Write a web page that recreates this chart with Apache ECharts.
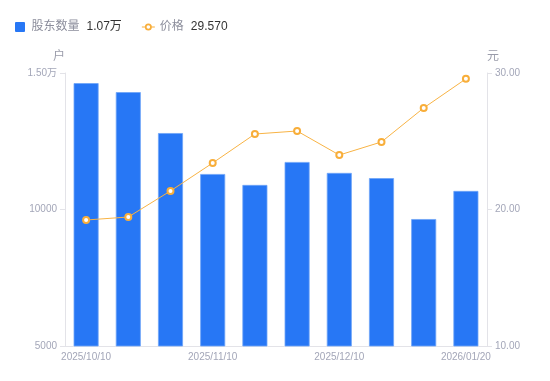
<!DOCTYPE html>
<html><head><meta charset="utf-8">
<script src="https://cdn.jsdelivr.net/npm/echarts@6/dist/echarts.min.js"></script>
<style>html,body{margin:0;padding:0;background:#fff}#c{width:550px;height:381px}</style>
</head><body><div id="c"></div>
<script>
const categories = ['2025/10/10','2025/10/20','2025/10/31','2025/11/10','2025/11/20','2025/11/28','2025/12/10','2025/12/20','2025/12/31','2026/01/20'];
const holders = [14630, 14300, 12800, 11300, 10900, 11740, 11340, 11150, 9650, 10680];
const prices = [19.23, 19.45, 21.36, 23.41, 25.53, 25.75, 23.99, 24.95, 27.44, 29.57];
const leftTicks = [5000, 10000, 15000];
const rightTicks = [10, 20, 30];

const chart = echarts.init(document.getElementById('c'), null, {renderer:'canvas'});
const fontFamily = '"Liberation Sans","Noto Sans CJK SC",sans-serif';
const fmtLeft = v => v > 10000 ? (v/10000).toFixed(2) + '万' : String(v);
const lastH = holders[holders.length-1], lastP = prices[prices.length-1];
const lineIcon = 'path://M0,4.5H3.2V5.5H0Z M9.8,4.5H13V5.5H9.8Z M6.5,1.5A3.5,3.5 0 1 1 6.5,8.5A3.5,3.5 0 1 1 6.5,1.5Z M6.5,3.2A1.8,1.8 0 1 0 6.5,6.8A1.8,1.8 0 1 0 6.5,3.2Z';
chart.setOption({
  animation:false,
  textStyle:{fontFamily},
  legend:{
    left:10, top:16, itemWidth:13, itemHeight:10, itemGap:20,
    data:[
      {name:'股东数量', icon:'path://M1,0h8a1,1 0 0 1 1,1v8a1,1 0 0 1 -1,1h-8a1,1 0 0 1 -1,-1v-8a1,1 0 0 1 1,-1z', itemStyle:{borderWidth:0}},
      {name:'价格', icon:lineIcon, itemStyle:{color:'#f8ae3a', borderWidth:0}}
    ],
    formatter: n => n === '股东数量' ? '{a|' + n + '}{b|' + (lastH/10000).toFixed(2) + '万}' : '{a|' + n + '}{b|' + lastP.toFixed(3) + '}',
    textStyle:{rich:{a:{color:'#8c8e9c', fontSize:12, fontFamily}, b:{color:'#333', fontSize:12, padding:[0,0,0,7], fontFamily}}}
  },
  grid:{left:65, right:63, top:73, bottom:35},
  xAxis:{
    type:'category', data:categories,
    axisLine:{lineStyle:{color:'#e3e3e8'}},
    axisTick:{show:false},
    axisLabel:{interval:2, color:'#a3a6b8', fontSize:10, margin:6, fontFamily}
  },
  yAxis:[
    {type:'value', min:leftTicks[0], max:leftTicks[2], interval:5000, name:'户', nameGap:10,
     nameTextStyle:{color:'#9a9caa', fontSize:12, align:'right'},
     axisLine:{show:true, lineStyle:{color:'#e3e3e8'}}, axisTick:{show:true, length:5, lineStyle:{color:'#e3e3e8'}},
     splitLine:{show:false},
     axisLabel:{formatter:fmtLeft, color:'#a3a6b8', fontSize:10, margin:8, fontFamily}},
    {type:'value', min:rightTicks[0], max:rightTicks[2], interval:10, name:'元', nameGap:10,
     nameTextStyle:{color:'#9a9caa', fontSize:12, align:'left'},
     axisLine:{show:true, lineStyle:{color:'#e3e3e8'}}, axisTick:{show:true, length:5, lineStyle:{color:'#e3e3e8'}},
     splitLine:{show:false},
     axisLabel:{formatter:v => v.toFixed(2), color:'#a3a6b8', fontSize:10, margin:8, fontFamily}}
  ],
  series:[
    {name:'股东数量', type:'bar', data:holders, barWidth:25,
     itemStyle:{color:'#2777f5', borderColor:'#6fa4f8', borderWidth:0.8}},
    {name:'价格', type:'line', yAxisIndex:1, data:prices,
     symbol:'circle', symbolSize:6, showSymbol:true,
     lineStyle:{color:'#f8b344', width:1},
     itemStyle:{color:'#fff', borderColor:'#f8ae3a', borderWidth:2}}
  ]
});
</script></body></html>
